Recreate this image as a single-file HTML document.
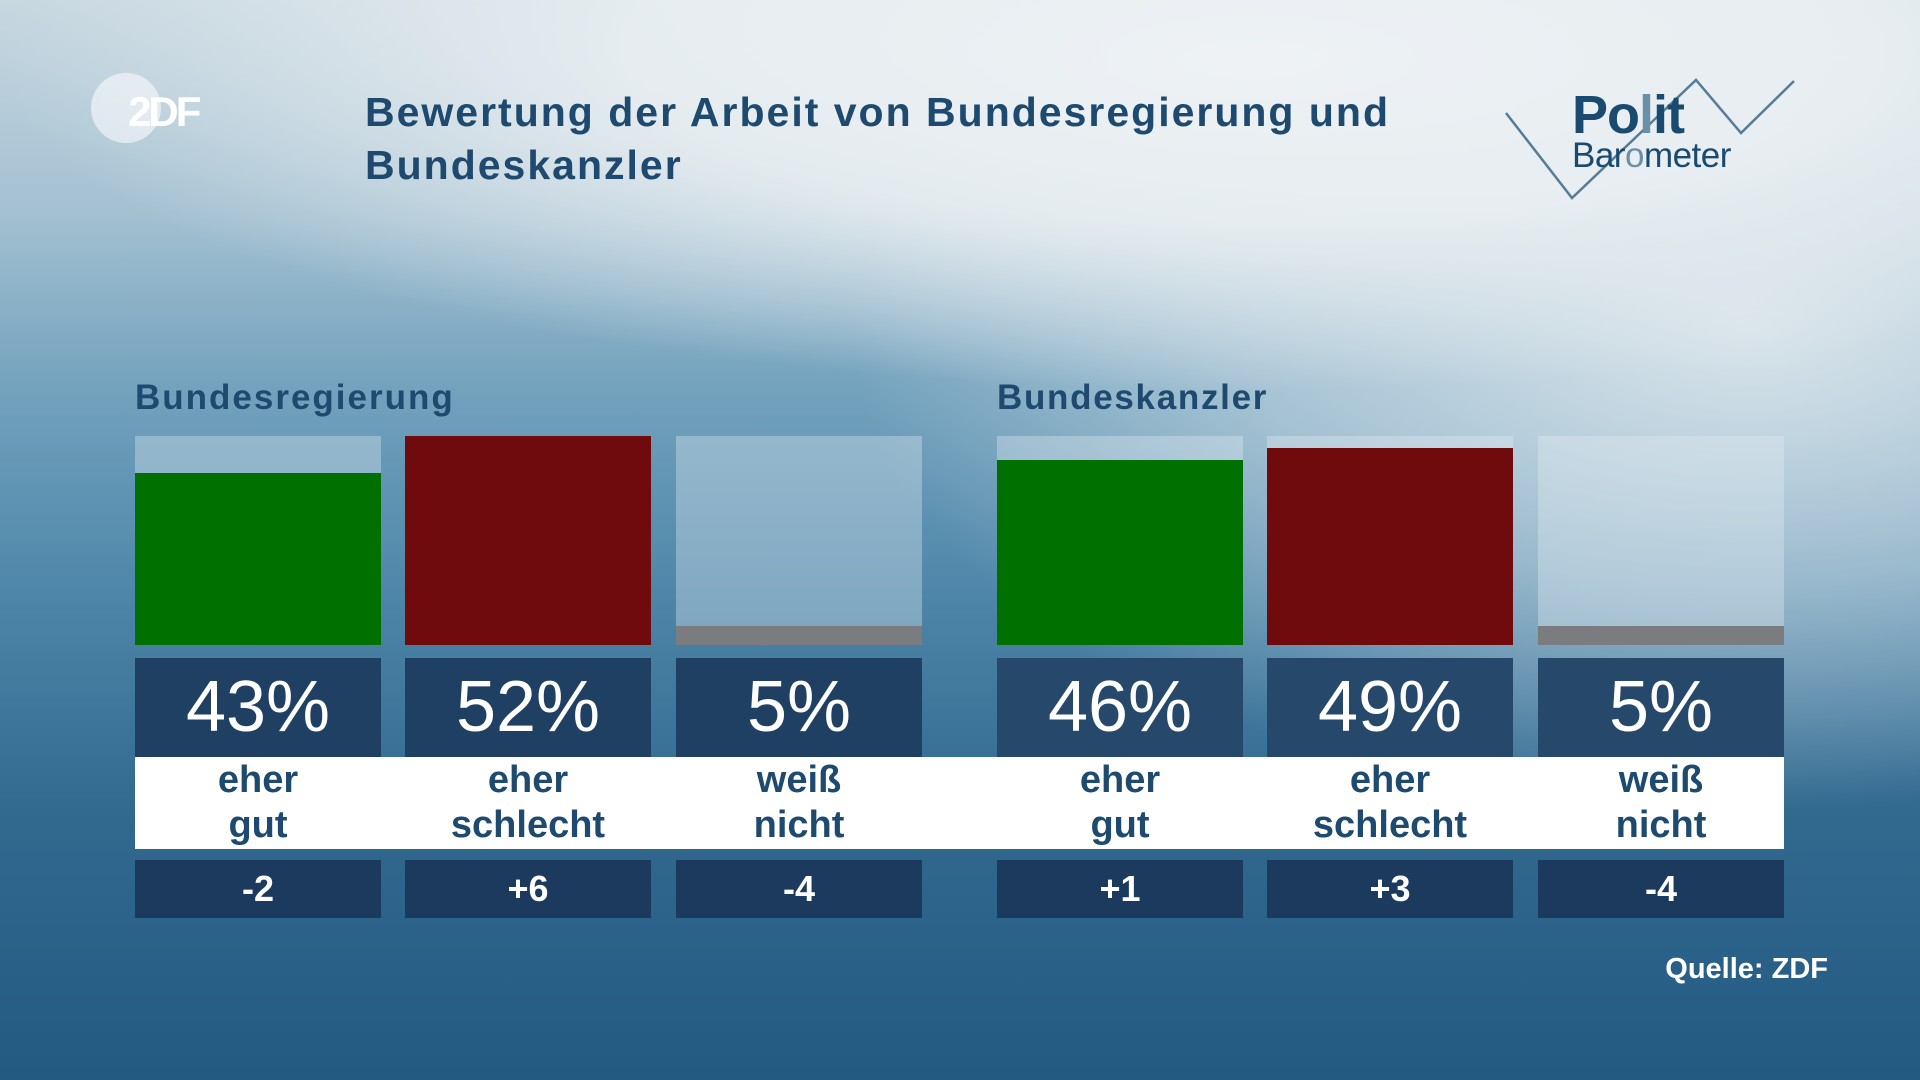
<!DOCTYPE html>
<html><head><meta charset="utf-8"><style>
*{margin:0;padding:0;box-sizing:border-box}
body{width:1920px;height:1080px;overflow:hidden;position:relative;font-family:"Liberation Sans",sans-serif;
background:
radial-gradient(ellipse 1250px 330px at 1250px 60px, rgba(238,242,245,1) 0%, rgba(234,239,242,0.9) 50%, rgba(234,239,242,0) 100%),
radial-gradient(ellipse 900px 480px at 1750px 330px, rgba(226,234,239,0.9) 0%, rgba(220,230,236,0.5) 55%, rgba(220,230,236,0) 100%),
linear-gradient(180deg,#c8d8e1 0%,#a3c0d1 20%,#73a2bd 36%,#4e86a9 55%,#32698f 75%,#235a82 100%);}
.a{position:absolute}
.t{color:#1d4a6e;font-weight:bold}
.bg{background:rgba(230,238,243,0.35)}
.pc{background:#1f3f63;color:#fff;font-size:72px;text-align:center;line-height:99px}
.ch{background:#1b3a5e;color:#fff;font-size:36px;font-weight:bold;text-align:center;line-height:58px}
.lb{color:#1d4a6e;font-size:38px;font-weight:bold;text-align:center;line-height:45px}
</style></head><body>
<div class="a" style="left:91px;top:73px;width:70px;height:70px;border-radius:50%;background:rgba(255,255,255,0.55)"></div>
<div class="a" style="left:128px;top:88px;font-size:42px;font-weight:bold;color:#fff;letter-spacing:-3px">2DF</div>
<div class="a t" style="left:365px;top:86px;font-size:41px;line-height:53px;letter-spacing:2px">Bewertung der Arbeit von Bundesregierung und<br>Bundeskanzler</div>
<svg class="a" style="left:1500px;top:70px" width="310" height="140"><polyline points="6,43 72,128 196,10 241,63 294,11" fill="none" stroke="#557d98" stroke-width="2.5"/></svg>
<div class="a" style="left:1572px;top:84px;font-size:54px;font-weight:bold;color:#1a4a70;letter-spacing:-1px">Po<span style="color:#6a8fa8">l</span>it</div>
<div class="a" style="left:1572px;top:136px;font-size:35px;color:#1a4a70;letter-spacing:-0.5px">Bar<span style="color:#6a8fa8">o</span>meter</div>
<div class="a t" style="left:135px;top:378px;font-size:35px;letter-spacing:2px">Bundesregierung</div>
<div class="a t" style="left:997px;top:378px;font-size:35px;letter-spacing:1.7px">Bundeskanzler</div>
<div class="a bg" style="left:135px;top:436px;width:246px;height:209px"></div>
<div class="a" style="left:135px;top:473px;width:246px;height:172px;background:#007000"></div>
<div class="a bg" style="left:405px;top:436px;width:246px;height:209px"></div>
<div class="a" style="left:405px;top:436px;width:246px;height:209px;background:#700b0d"></div>
<div class="a bg" style="left:676px;top:436px;width:246px;height:209px"></div>
<div class="a" style="left:676px;top:626px;width:246px;height:19px;background:#7a7c80"></div>
<div class="a bg" style="left:997px;top:436px;width:246px;height:209px"></div>
<div class="a" style="left:997px;top:460px;width:246px;height:185px;background:#007000"></div>
<div class="a bg" style="left:1267px;top:436px;width:246px;height:209px"></div>
<div class="a" style="left:1267px;top:448px;width:246px;height:197px;background:#700b0d"></div>
<div class="a bg" style="left:1538px;top:436px;width:246px;height:209px"></div>
<div class="a" style="left:1538px;top:626px;width:246px;height:19px;background:#7a7c80"></div>
<div class="a pc" style="left:135px;top:658px;width:246px">43%</div>
<div class="a pc" style="left:405px;top:658px;width:246px">52%</div>
<div class="a pc" style="left:676px;top:658px;width:246px">5%</div>
<div class="a pc" style="left:997px;top:658px;width:246px;background:#26486a">46%</div>
<div class="a pc" style="left:1267px;top:658px;width:246px;background:#26486a">49%</div>
<div class="a pc" style="left:1538px;top:658px;width:246px;background:#26486a">5%</div>
<div class="a" style="left:135px;top:757px;width:1649px;height:92px;background:#fff"></div>
<div class="a lb" style="left:135px;top:758px;width:246px">eher<br>gut</div>
<div class="a lb" style="left:405px;top:758px;width:246px">eher<br>schlecht</div>
<div class="a lb" style="left:676px;top:758px;width:246px">weiß<br>nicht</div>
<div class="a lb" style="left:997px;top:758px;width:246px">eher<br>gut</div>
<div class="a lb" style="left:1267px;top:758px;width:246px">eher<br>schlecht</div>
<div class="a lb" style="left:1538px;top:758px;width:246px">weiß<br>nicht</div>
<div class="a ch" style="left:135px;top:860px;width:246px">-2</div>
<div class="a ch" style="left:405px;top:860px;width:246px">+6</div>
<div class="a ch" style="left:676px;top:860px;width:246px">-4</div>
<div class="a ch" style="left:997px;top:860px;width:246px">+1</div>
<div class="a ch" style="left:1267px;top:860px;width:246px">+3</div>
<div class="a ch" style="left:1538px;top:860px;width:246px">-4</div>
<div class="a" style="right:92px;top:953px;font-size:29px;font-weight:bold;color:#fff">Quelle: ZDF</div>
</body></html>
